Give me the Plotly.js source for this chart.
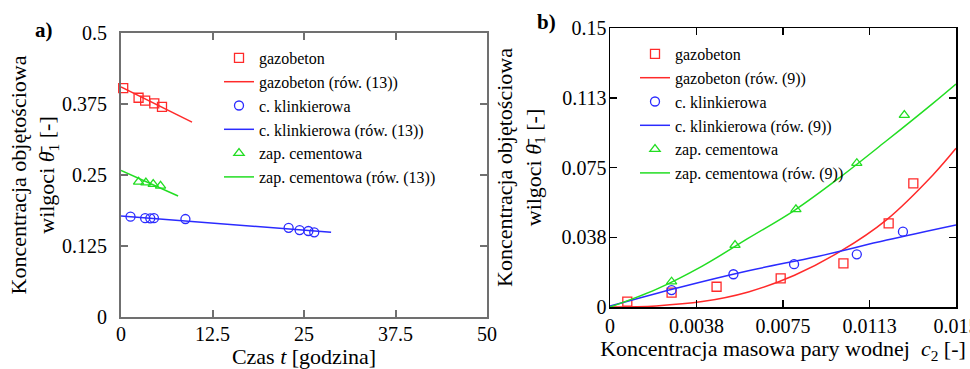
<!DOCTYPE html>
<html>
<head>
<meta charset="utf-8">
<script src="https://cdn.plot.ly/plotly-3.0.1.min.js"></script>
<style>html,body{margin:0;padding:0;background:#fff;}#chart{width:970px;height:369px;}</style>
</head>
<body>
<div id="chart"></div>
<script>
// ---------- Panel a) data ----------
const aGazT = [0.3, 2.4, 3.3, 4.55, 5.6];
const aGazY = [0.403, 0.386, 0.381, 0.376, 0.370];
const aGazFitT = [0, 9.7];
const aGazFitY = [0.405, 0.343];

const aKlinT = [1.3, 3.3, 4.0, 4.5, 8.8, 22.9, 24.4, 25.6, 26.4];
const aKlinY = [0.1766, 0.1740, 0.1738, 0.1740, 0.1725, 0.157, 0.153, 0.1514, 0.149];
const aKlinFitT = [0, 28.7];
const aKlinFitY = [0.178, 0.149];

const aCemT = [2.4, 3.4, 4.4, 5.4];
const aCemY = [0.238, 0.2365, 0.234, 0.231];
const aCemFitT = [0, 7.8];
const aCemFitY = [0.258, 0.213];

const aXTicks = [0, 12.5, 25, 37.5, 50];
const aXTickText = ['0', '12.5', '25', '37.5', '50'];
const aYTicks = [0, 0.125, 0.25, 0.375, 0.5];
const aYTickText = ['0', '0.125', '0.25', '0.375', '0.5'];

// ---------- Panel b) data ----------
const bGazC = [0.00075, 0.00267, 0.00462, 0.0074, 0.01012, 0.01208, 0.01315];
const bGazY = [0.0029, 0.0077, 0.0109, 0.0154, 0.0235, 0.045, 0.0665];
const bGazFitC = [0, 0.002, 0.004, 0.006, 0.008, 0.010, 0.012, 0.014, 0.015];
const bGazFitY = [0, 0.0006, 0.0029, 0.0081, 0.0171, 0.0300, 0.0470, 0.0710, 0.0853];

const bKlinC = [0.00267, 0.00535, 0.00798, 0.0107, 0.0127];
const bKlinY = [0.0091, 0.0176, 0.0230, 0.0283, 0.0405];
const bKlinFitC = [0, 0.003, 0.006, 0.009, 0.012, 0.015];
const bKlinFitY = [0.0005, 0.0105, 0.0195, 0.0272, 0.0360, 0.0441];

const bCemC = [0.00267, 0.00542, 0.00806, 0.0107, 0.01276];
const bCemY = [0.0136, 0.0333, 0.0525, 0.0773, 0.1032];
const bCemFitC = [0, 0.002, 0.004, 0.006, 0.008, 0.010, 0.012, 0.014, 0.015];
const bCemFitY = [0, 0.0095, 0.0220, 0.0370, 0.0520, 0.0700, 0.0895, 0.1095, 0.1199];

const bXTicks = [0, 0.00375, 0.0075, 0.01125, 0.015];
const bXTickText = ['0', '0.0038', '0.0075', '0.0113', '0.015'];
const bYTicks = [0, 0.0375, 0.075, 0.1125, 0.15];
const bYTickText = ['0', '0.038', '0.075', '0.113', '0.15'];

// ---------- styling ----------
const FONT = 'Liberation Serif';
const RED = '#ff2a2a', BLUE = '#2b2bff', GREEN = '#22dd22';
const W = 970, H = 369;
const px = v => v / W;
const py = v => 1 - v / H;

function mk(x, y, name, color, symbol, xa, ya, leg) {
  return {x, y, name, type: 'scatter', mode: 'markers', xaxis: xa, yaxis: ya, legend: leg,
    marker: {symbol, size: 9, color: color, line: {color, width: 1.3}}, cliponaxis: false};
}
function ln(x, y, name, color, xa, ya, leg, shape) {
  return {x, y, name, type: 'scatter', mode: 'lines', xaxis: xa, yaxis: ya, legend: leg,
    line: {color, width: 1.5, shape: shape || 'linear'}};
}

const traces = [
  mk(aGazT, aGazY, 'gazobeton', RED, 'square-open', 'x', 'y', 'legend'),
  ln(aGazFitT, aGazFitY, 'gazobeton (rów. (13))', RED, 'x', 'y', 'legend'),
  mk(aKlinT, aKlinY, 'c. klinkierowa', BLUE, 'circle-open', 'x', 'y', 'legend'),
  ln(aKlinFitT, aKlinFitY, 'c. klinkierowa (rów. (13))', BLUE, 'x', 'y', 'legend'),
  mk(aCemT, aCemY, 'zap. cementowa', GREEN, 'triangle-up-open', 'x', 'y', 'legend'),
  ln(aCemFitT, aCemFitY, 'zap. cementowa (rów. (13))', GREEN, 'x', 'y', 'legend'),

  mk(bGazC, bGazY, 'gazobeton', RED, 'square-open', 'x2', 'y2', 'legend2'),
  ln(bGazFitC, bGazFitY, 'gazobeton (rów. (9))', RED, 'x2', 'y2', 'legend2', 'spline'),
  mk(bKlinC, bKlinY, 'c. klinkierowa', BLUE, 'circle-open', 'x2', 'y2', 'legend2'),
  ln(bKlinFitC, bKlinFitY, 'c. klinkierowa (rów. (9))', BLUE, 'x2', 'y2', 'legend2', 'spline'),
  mk(bCemC, bCemY, 'zap. cementowa', GREEN, 'triangle-up-open', 'x2', 'y2', 'legend2'),
  ln(bCemFitC, bCemFitY, 'zap. cementowa (rów. (9))', GREEN, 'x2', 'y2', 'legend2', 'spline')
];

function axis(domain, range, tv, tt, anchor, lineColor, lw, extra) {
  return Object.assign({
    domain, range, tickvals: tv, ticktext: tt, anchor,
    showgrid: false, zeroline: false, showline: true, mirror: 'ticks',
    linecolor: lineColor, linewidth: lw, ticks: 'inside', ticklen: 7, tickwidth: lw,
    tickcolor: lineColor, tickfont: {family: FONT, size: 20, color: '#000'},
    fixedrange: true, automargin: false, ticklabeloverflow: 'allow'
  }, extra || {});
}

const titleFont = {family: FONT, size: 22, color: '#000'};
const yTitle = 'Koncentracja objętościowa<br>wilgoci <i>θ̄</i><sub>1</sub> [-]';

const layout = {
  width: W, height: H,
  margin: {l: 0, r: 0, t: 0, b: 0},
  paper_bgcolor: '#fff', plot_bgcolor: '#fff',
  showlegend: true,
  font: {family: FONT, color: '#000'},
  xaxis: axis([px(121), px(487)], [0, 50], aXTicks, aXTickText, 'y', '#707070', 2,
    {title: {text: 'Czas <i>t</i> [godzina]', font: titleFont, standoff: 21}, ticklabelstandoff: -2}),
  yaxis: axis([1 - 317 / H, 1 - 33 / H], [0, 0.5], aYTicks, aYTickText, 'x', '#707070', 2,
    {title: {text: yTitle, font: titleFont, standoff: 0}, ticklabelstandoff: 8}),
  xaxis2: axis([px(610), px(956)], [0, 0.015], bXTicks, bXTickText, 'y2', '#000', 1.5,
    {title: {text: 'Koncentracja masowa pary wodnej  <i>c</i><sub>2</sub> [-]', font: titleFont, standoff: 5}, ticklabelstandoff: 0}),
  yaxis2: axis([1 - 307 / H, 1 - 28 / H], [0, 0.15], bYTicks, bYTickText, 'x2', '#000', 1.5,
    {title: {text: yTitle, font: titleFont, standoff: 14}, ticklabelstandoff: -2}),
  legend: {x: px(219), xanchor: 'left', y: py(41), yanchor: 'top', bgcolor: 'rgba(0,0,0,0)',
    font: {family: FONT, size: 16, color: '#000'}, tracegroupgap: 0, itemwidth: 30},
  legend2: {x: px(635), xanchor: 'left', y: py(37), yanchor: 'top', bgcolor: 'rgba(0,0,0,0)',
    font: {family: FONT, size: 16, color: '#000'}, tracegroupgap: 0, itemwidth: 30},
  annotations: [
    {text: '<b>a)</b>', xref: 'paper', yref: 'paper', x: px(33), y: py(30), xanchor: 'left', yanchor: 'middle',
      showarrow: false, font: {family: FONT, size: 21, color: '#000'}},
    {text: '<b>b)</b>', xref: 'paper', yref: 'paper', x: px(535), y: py(22), xanchor: 'left', yanchor: 'middle',
      showarrow: false, font: {family: FONT, size: 21, color: '#000'}}
  ]
};

Plotly.newPlot('chart', traces, layout, {displayModeBar: false, staticPlot: true});
</script>
</body>
</html>
